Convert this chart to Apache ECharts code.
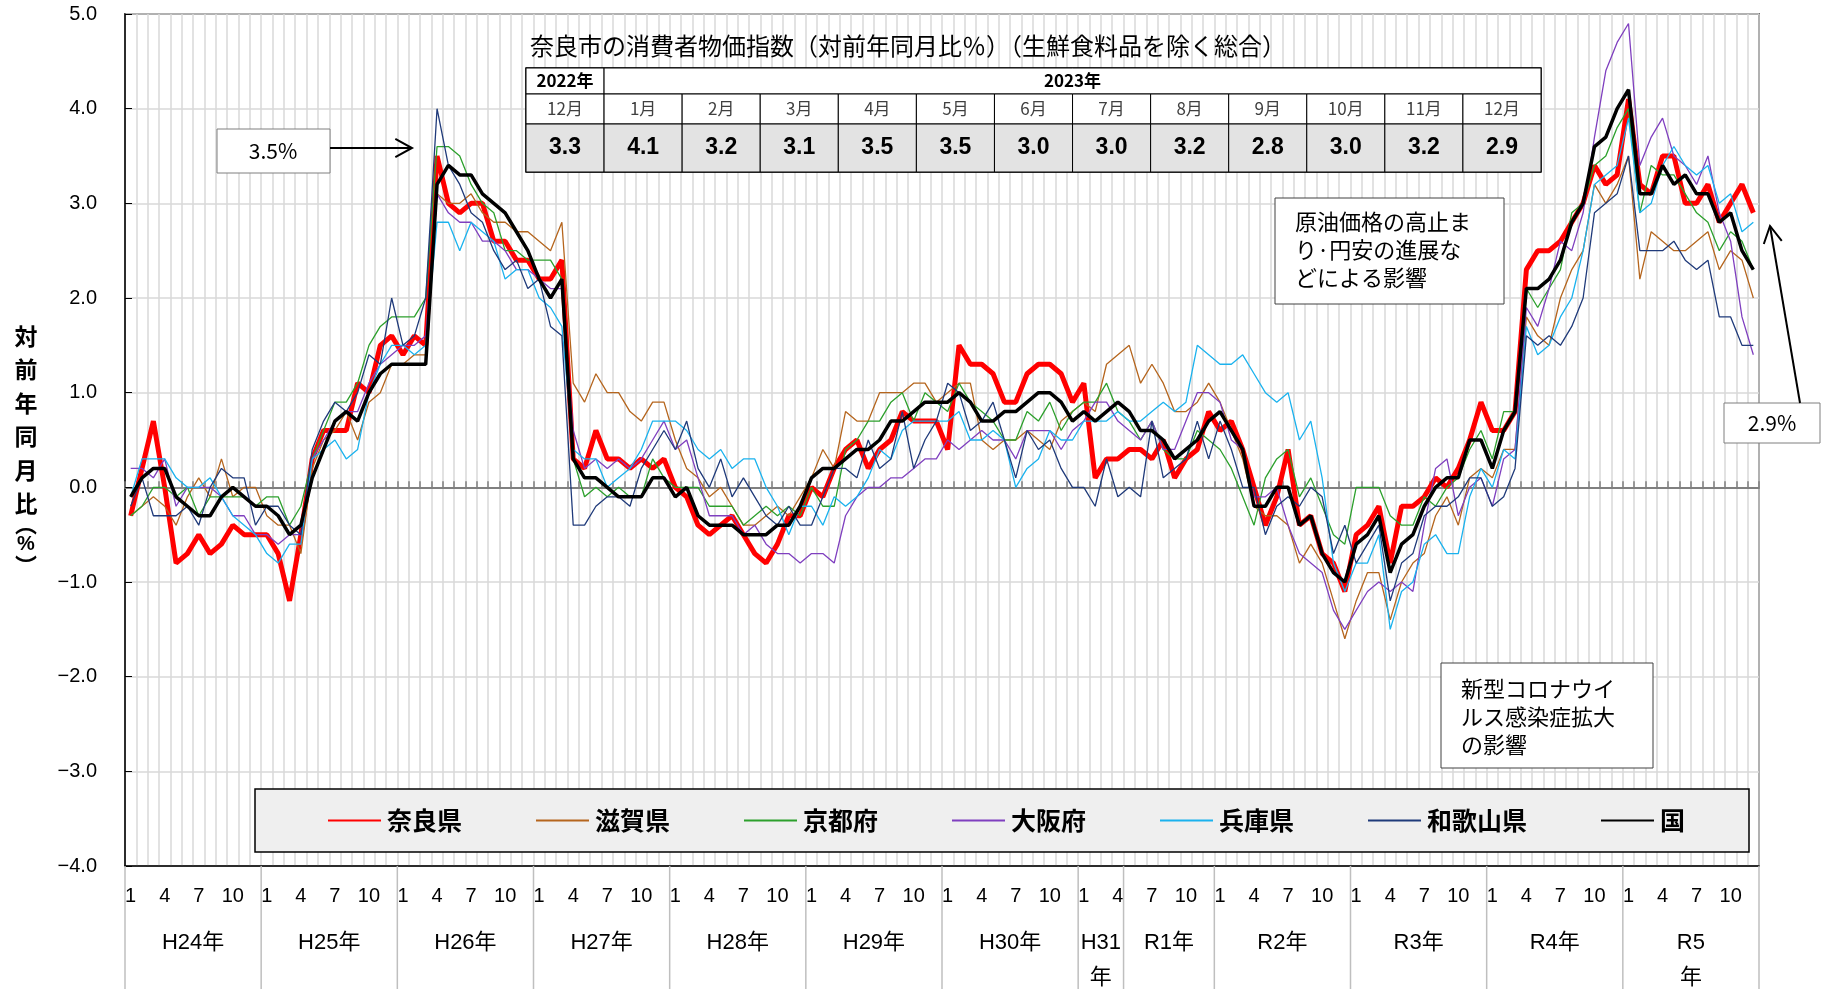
<!DOCTYPE html>
<html>
<head>
<meta charset="utf-8">
<script src="https://cdn.jsdelivr.net/npm/echarts@6/dist/echarts.min.js"></script>
<style>
html,body{margin:0;padding:0;background:#fff;}
#c{width:1833px;height:989px;}
</style>
</head>
<body>
<div id="c"></div>
<script>
// ---------------- data ----------------
const YEARS = [2012,2013,2014,2015,2016,2017,2018,2019,2020,2021,2022,2023];
const ERA_LABELS = [
  {text:'H24年', from:0, to:12},
  {text:'H25年', from:12, to:24},
  {text:'H26年', from:24, to:36},
  {text:'H27年', from:36, to:48},
  {text:'H28年', from:48, to:60},
  {text:'H29年', from:60, to:72},
  {text:'H30年', from:72, to:84},
  {text:'H31\n年', from:84, to:88},
  {text:'R1年', from:88, to:96},
  {text:'R2年', from:96, to:108},
  {text:'R3年', from:108, to:120},
  {text:'R4年', from:120, to:132},
  {text:'R5\n年', from:132, to:144}
];
const SERIES_NAMES = ['奈良県','滋賀県','京都府','大阪府','兵庫県','和歌山県','国'];

const nara = [
 -0.3,0.2,0.7,0.0,-0.8,-0.7,-0.5,-0.7,-0.6,-0.4,-0.5,-0.5,
 -0.5,-0.7,-1.2,-0.5,0.3,0.6,0.6,0.6,1.1,1.0,1.5,1.6,
 1.4,1.6,1.5,3.5,3.0,2.9,3.0,3.0,2.6,2.6,2.4,2.4,
 2.2,2.2,2.4,0.3,0.2,0.6,0.3,0.3,0.2,0.3,0.2,0.3,
 0.0,-0.1,-0.4,-0.5,-0.4,-0.3,-0.5,-0.7,-0.8,-0.6,-0.3,-0.3,
 0.0,-0.1,0.2,0.4,0.5,0.2,0.4,0.5,0.8,0.7,0.7,0.7,
 0.4,1.5,1.3,1.3,1.2,0.9,0.9,1.2,1.3,1.3,1.2,0.9,
 1.1,0.1,0.3,0.3,0.4,0.4,0.3,0.5,0.1,0.3,0.4,0.8,
 0.6,0.7,0.4,0.0,-0.4,-0.1,0.4,-0.4,-0.3,-0.7,-0.8,-1.1,
 -0.5,-0.4,-0.2,-0.8,-0.2,-0.2,-0.1,0.1,0.0,0.2,0.5,0.9,
 0.6,0.6,0.8,2.3,2.5,2.5,2.6,2.8,3.0,3.4,3.2,3.3,
 4.1,3.2,3.1,3.5,3.5,3.0,3.0,3.2,2.8,3.0,3.2,2.9
];
const shiga = [
 -0.3,-0.2,-0.1,-0.2,-0.4,-0.1,0.1,-0.1,0.3,-0.1,0.0,0.0,
 -0.3,-0.4,-0.4,-0.7,0.2,0.5,0.6,0.8,0.5,0.9,1.0,1.3,
 1.3,1.4,1.4,3.1,3.0,3.0,3.1,2.9,2.8,2.8,2.7,2.7,
 2.6,2.5,2.8,1.1,0.9,1.2,1.0,1.0,0.8,0.7,0.9,0.9,
 0.5,0.2,0.1,-0.1,0.0,-0.2,-0.4,-0.4,-0.3,-0.2,-0.3,-0.1,
 0.1,0.4,0.2,0.8,0.7,0.7,1.0,1.0,1.0,1.1,1.1,0.9,
 1.0,1.1,1.1,0.5,0.4,0.5,0.5,0.6,0.5,0.4,0.7,0.8,
 0.9,0.8,1.3,1.4,1.5,1.1,1.3,1.1,0.8,0.8,0.9,1.1,
 0.9,0.6,0.3,-0.2,-0.3,-0.3,-0.4,-0.8,-0.6,-0.8,-1.2,-1.6,
 -1.2,-0.9,-0.9,-1.4,-1.0,-0.8,-0.7,-0.3,-0.1,-0.4,0.1,0.2,
 0.1,0.4,0.4,1.8,1.6,1.5,2.0,2.3,2.5,3.2,3.0,3.2,
 3.5,2.2,2.7,2.6,2.5,2.5,2.6,2.7,2.3,2.5,2.4,2.0
];
const kyoto = [
 -0.3,-0.2,0.0,0.0,-0.1,0.0,-0.3,-0.1,-0.1,-0.1,-0.1,-0.2,
 -0.1,-0.1,-0.4,-0.2,0.3,0.6,0.9,0.9,1.1,1.5,1.7,1.8,
 1.8,1.8,2.0,3.6,3.6,3.5,3.2,3.0,2.9,2.5,2.5,2.4,
 2.4,2.4,2.2,0.3,-0.1,0.0,-0.1,0.0,-0.1,-0.1,0.3,0.1,
 0.0,0.0,0.0,-0.2,-0.2,-0.2,-0.4,-0.3,-0.2,-0.3,-0.2,-0.3,
 0.0,-0.2,-0.2,0.4,0.5,0.7,0.7,0.9,1.0,0.7,1.0,0.9,
 0.8,1.1,0.9,0.8,0.7,0.5,0.5,0.8,0.7,0.9,0.6,0.8,
 0.9,0.9,1.1,0.8,0.7,0.5,0.7,0.4,0.3,0.3,0.6,0.5,
 0.4,0.2,-0.1,-0.4,0.1,0.3,0.4,-0.1,0.1,-0.2,-0.5,-0.6,
 0.0,0.0,0.0,-0.3,-0.4,-0.4,-0.1,-0.2,0.0,0.1,0.4,0.6,
 0.3,0.8,0.8,2.1,1.9,2.1,2.3,2.9,3.0,3.4,3.5,3.8,
 4.0,2.9,3.4,3.3,3.3,3.1,2.9,2.8,2.5,2.7,2.6,2.3
];
const osaka = [
 0.2,0.2,0.1,0.3,-0.2,0.0,0.0,0.0,-0.1,-0.3,-0.3,-0.5,
 -0.5,-0.6,-0.5,-0.5,0.3,0.5,0.7,0.8,0.8,1.1,1.3,1.4,
 1.5,1.5,1.6,3.1,2.9,2.8,2.8,2.6,2.6,2.5,2.3,2.3,
 2.2,2.1,2.1,0.6,0.2,0.3,0.2,0.3,0.2,0.3,0.5,0.7,
 0.4,0.5,0.1,-0.3,-0.3,-0.3,-0.5,-0.4,-0.6,-0.7,-0.7,-0.8,
 -0.7,-0.7,-0.8,-0.3,-0.1,0.0,0.0,0.1,0.1,0.2,0.3,0.3,
 0.5,0.4,0.5,0.6,0.5,0.5,0.3,0.6,0.6,0.6,0.4,0.6,
 0.7,0.9,0.9,0.7,0.6,0.5,0.7,0.4,0.4,0.7,1.0,1.0,
 0.9,0.5,0.4,-0.1,-0.1,0.0,-0.4,-0.7,-0.8,-0.9,-1.3,-1.5,
 -1.3,-1.1,-1.0,-1.1,-1.0,-1.1,-0.4,0.2,0.3,-0.3,0.0,0.1,
 -0.2,0.3,0.4,1.9,1.7,2.1,2.6,2.5,2.9,3.7,4.4,4.7,
 4.9,3.4,3.7,3.9,3.5,3.4,3.2,3.5,2.9,2.6,1.8,1.4
];
const hyogo = [
 -0.1,0.3,0.3,0.3,0.1,0.0,0.0,0.1,-0.1,-0.3,-0.4,-0.5,
 -0.7,-0.8,-0.6,-0.6,0.3,0.4,0.5,0.3,0.4,1.0,1.3,1.5,
 1.5,1.4,1.5,2.8,2.8,2.5,2.8,2.7,2.6,2.2,2.3,2.3,
 2.0,1.9,1.7,0.4,0.3,0.3,0.0,0.1,0.2,0.4,0.7,0.7,
 0.7,0.6,0.4,0.3,0.4,0.2,0.3,0.3,0.0,-0.2,-0.5,-0.2,
 -0.2,-0.4,-0.1,-0.2,-0.1,0.1,0.4,0.3,0.6,0.7,0.7,0.7,
 0.7,0.8,0.5,0.5,0.6,0.5,0.0,0.2,0.3,0.6,0.5,0.5,
 0.7,0.7,0.7,0.8,0.7,0.7,0.8,0.9,0.8,0.9,1.5,1.4,
 1.3,1.3,1.4,1.2,1.0,0.9,1.0,0.5,0.7,0.1,-0.8,-1.1,
 -0.8,-0.8,-0.5,-1.5,-1.1,-1.0,-0.6,-0.5,-0.7,-0.7,-0.1,0.2,
 0.0,0.4,0.3,1.7,1.4,1.5,1.8,2.0,2.5,3.2,3.3,3.4,
 3.9,2.9,3.0,3.4,3.6,3.4,3.3,3.4,3.0,3.1,2.7,2.8
];
const wakayama = [
 -0.2,0.1,-0.3,-0.3,-0.3,-0.2,-0.4,0.0,0.2,0.1,0.1,-0.4,
 -0.2,-0.2,-0.4,-0.5,0.4,0.7,0.9,0.8,1.0,1.4,1.3,2.0,
 1.5,1.6,2.0,4.0,3.4,3.2,2.9,2.8,2.5,2.3,2.4,2.1,
 2.2,1.7,1.6,-0.4,-0.4,-0.2,-0.1,-0.1,-0.2,0.2,0.4,0.6,
 0.4,0.7,0.2,0.0,0.3,-0.1,0.1,-0.1,-0.3,-0.4,-0.2,-0.4,
 -0.4,-0.1,0.2,0.2,0.1,0.5,0.2,0.3,0.8,0.2,0.5,0.7,
 1.1,1.0,0.6,0.7,0.9,0.5,0.1,0.6,0.4,0.5,0.2,0.0,
 0.0,-0.2,0.3,-0.1,0.0,-0.1,0.7,0.1,0.2,0.3,0.7,0.3,
 0.7,0.4,0.0,0.0,-0.5,-0.2,-0.1,-0.2,0.0,-0.1,-0.7,-0.4,
 -0.8,-0.6,-0.4,-1.2,-0.8,-0.7,-0.3,-0.2,-0.2,-0.1,0.1,0.1,
 -0.2,-0.1,0.2,1.6,1.5,1.6,1.5,1.7,2.0,2.9,3.0,3.1,
 3.5,2.5,2.5,2.5,2.6,2.4,2.3,2.4,1.8,1.8,1.5,1.5
];
const kuni = [
 -0.1,0.1,0.2,0.2,-0.1,-0.2,-0.3,-0.3,-0.1,0.0,-0.1,-0.2,
 -0.2,-0.3,-0.5,-0.4,0.1,0.4,0.7,0.8,0.7,1.0,1.2,1.3,
 1.3,1.3,1.3,3.2,3.4,3.3,3.3,3.1,3.0,2.9,2.7,2.5,
 2.2,2.0,2.2,0.3,0.1,0.1,0.0,-0.1,-0.1,-0.1,0.1,0.1,
 -0.1,0.0,-0.3,-0.4,-0.4,-0.4,-0.5,-0.5,-0.5,-0.4,-0.4,-0.2,
 0.1,0.2,0.2,0.3,0.4,0.4,0.5,0.7,0.7,0.8,0.9,0.9,
 0.9,1.0,0.9,0.7,0.7,0.8,0.8,0.9,1.0,1.0,0.9,0.7,
 0.8,0.7,0.8,0.9,0.8,0.6,0.6,0.5,0.3,0.4,0.5,0.7,
 0.8,0.6,0.4,-0.2,-0.2,0.0,0.0,-0.4,-0.3,-0.7,-0.9,-1.0,
 -0.6,-0.5,-0.3,-0.9,-0.6,-0.5,-0.2,0.0,0.1,0.1,0.5,0.5,
 0.2,0.6,0.8,2.1,2.1,2.2,2.4,2.8,3.0,3.6,3.7,4.0,
 4.2,3.1,3.1,3.4,3.2,3.3,3.1,3.1,2.8,2.9,2.5,2.3
];

// table (奈良市) : header groups, month labels; values come from nara's last 13 months
const TABLE_TITLE = '奈良市の消費者物価指数（対前年同月比％）（生鮮食料品を除く総合）';
const TABLE_GROUPS = [{text:'2022年', cols:1},{text:'2023年', cols:12}];
const TABLE_MONTHS = ['12月','1月','2月','3月','4月','5月','6月','7月','8月','9月','10月','11月','12月'];
const TABLE_VALUES = nara.slice(-13);

// ---------------- build ----------------
const categories = [];
YEARS.forEach(y => { for (let m = 1; m <= 12; m++) categories.push(y + '-' + m); });

const JP = "'Noto Sans CJK JP','Noto Sans',sans-serif";
const NUM = "'Liberation Sans','Noto Sans CJK JP',sans-serif";

const colors = ['#ff0000','#b5651d','#2ca02c','#7f3fbf','#1ab2ee','#1f3a7a','#000000'];
const widths = [5, 1.3, 1.3, 1.3, 1.3, 1.3, 3.5];
const dataSets = [nara, shiga, kyoto, osaka, hyogo, wakayama, kuni];

const series = SERIES_NAMES.map((n, i) => ({
  name: n, type: 'line', data: dataSets[i], symbol: 'none', smooth: false,
  xAxisIndex: 0, yAxisIndex: 0,
  lineStyle: {color: colors[i], width: widths[i]},
  itemStyle: {color: colors[i]},
  z: i === 0 ? 2 : 3,
  animation: false
}));

const chart = echarts.init(document.getElementById('c'), null, {width:1833, height:989});

const option = {
  animation: false,
  backgroundColor: '#fff',
  grid: {left:125, right:74, top:14, bottom:123, show:true, borderColor:'#000', borderWidth:1.5, backgroundColor:'#fff'},
  xAxis: [
    {
      type:'category', data: categories, boundaryGap:true, position:'bottom',
      axisLine:{show:true, onZero:false, lineStyle:{color:'#000', width:1.5}},
      axisTick:{show:false},
      axisLabel:{
        interval: (i) => i % 3 === 0,
        formatter: (v) => v.split('-')[1],
        fontSize:20, color:'#000', fontFamily:NUM, margin:20
      },
      splitLine:{show:true, interval:0, lineStyle:{color:'#d9d9d9', width:1.5}}
    },
    {
      type:'category', data: categories, boundaryGap:true, position:'bottom',
      axisLine:{show:true, onZero:true, lineStyle:{color:'#808080', width:2}},
      axisTick:{show:true, inside:true, interval:0, length:6, lineStyle:{color:'#808080', width:1.5}},
      axisLabel:{show:false},
      splitLine:{show:false}
    }
  ],
  yAxis: {
    type:'value', min:-4, max:5, interval:1,
    axisLine:{show:true, lineStyle:{color:'#000', width:1.5}},
    axisTick:{show:true, inside:true, length:7, lineStyle:{color:'#000'}},
    axisLabel:{formatter:(v)=> (v<0?'−':'') + Math.abs(v).toFixed(1), fontSize:20, color:'#000', fontFamily:NUM, margin:28},
    splitLine:{show:true, lineStyle:{color:'#d9d9d9', width:1.5}}
  },
  legend: {
    data: SERIES_NAMES, left:255, top:789,
    padding:[19,64,19,72], itemGap:73, itemWidth:53, itemHeight:14,
    backgroundColor:'#efefef', borderColor:'#000', borderWidth:1.5,
    itemStyle:{opacity:0, borderWidth:0},
    textStyle:{fontSize:25, fontWeight:'bold', color:'#000', fontFamily:JP, padding:[0,0,0,1]},
    selectedMode:false
  },
  series: series
};
chart.setOption(option);

// ---------------- graphics ----------------
const g = [];
function txt(x, y, text, o) {
  o = o || {};
  g.push({type:'text', x:x, y:y, z:o.z || 20, silent:true, style:{
    text:text, fill:o.color || '#000', fontSize:o.size || 20, fontWeight:o.weight || 'normal',
    fontFamily:o.family || JP, align:o.align || 'center', verticalAlign:o.valign || 'middle',
    lineHeight:o.lh
  }});
}
function rect(x, y, w, h, fill, stroke, lw, z) {
  g.push({type:'rect', z:z || 15, silent:true, shape:{x:x, y:y, width:w, height:h},
    style:{fill:fill, stroke:stroke, lineWidth:lw || 1}});
}
function line(x1, y1, x2, y2, stroke, lw, z) {
  g.push({type:'line', z:z || 15, silent:true, shape:{x1:x1, y1:y1, x2:x2, y2:y2}, style:{stroke:stroke, lineWidth:lw}});
}
function arrow(x1, y1, x2, y2) {
  line(x1, y1, x2, y2, '#000', 2, 18);
  const a = Math.atan2(y1 - y2, x1 - x2), L = 19, A = 0.5;
  g.push({type:'polyline', z:18, silent:true, shape:{points:[
    [x2 + L*Math.cos(a + A), y2 + L*Math.sin(a + A)], [x2, y2], [x2 + L*Math.cos(a - A), y2 + L*Math.sin(a - A)]
  ]}, style:{stroke:'#000', lineWidth:2, fill:null}});
}

// y-axis name (vertical)
['対','前','年','同','月','比'].forEach((c, i) => txt(26, 336 + i*33.5, c, {size:23, weight:'bold'}));
txt(26, 524, '︵', {size:22, weight:'bold'});
txt(26, 544, '%', {size:20, weight:'bold', family:NUM});
txt(26, 566, '︶', {size:22, weight:'bold'});

// table
const tX = 526, colW = (1541 - 526) / 13;
const rY = [68, 94, 124, 172];
txt(530, 46, TABLE_TITLE, {size:24, align:'left'});
rect(tX, rY[0], colW*13, rY[3]-rY[0], '#fff', '#000', 1.5, 14);
let c0 = 0;
TABLE_GROUPS.forEach(gr => {
  rect(tX + c0*colW, rY[0], gr.cols*colW, rY[1]-rY[0], '#fff', '#000', 1);
  txt(tX + (c0 + gr.cols/2)*colW, (rY[0]+rY[1])/2, gr.text, {size:17, weight:'bold'});
  c0 += gr.cols;
});
TABLE_MONTHS.forEach((m, i) => {
  rect(tX + i*colW, rY[1], colW, rY[2]-rY[1], '#fff', '#000', 1);
  txt(tX + (i+0.5)*colW, (rY[1]+rY[2])/2, m, {size:17, color:'#404040'});
  rect(tX + i*colW, rY[2], colW, rY[3]-rY[2], '#e3e3e3', '#000', 1);
  txt(tX + (i+0.5)*colW, (rY[2]+rY[3])/2, TABLE_VALUES[i].toFixed(1), {size:23, weight:'bold', family:NUM});
});

// annotation: 3.5%
rect(217, 129, 113, 44, '#fff', '#7f7f7f', 1);
txt(273, 151, '3.5%', {size:21});
arrow(330, 148, 412, 148);

// annotation: 2.9%
rect(1724, 403, 96, 40, '#fff', '#7f7f7f', 1);
txt(1772, 423, '2.9%', {size:21});
arrow(1800, 403, 1770, 226);

// annotation boxes
rect(1275, 198, 229, 106, '#fff', '#404040', 1);
['原油価格の高止ま','り·円安の進展な','どによる影響'].forEach((s, i) => txt(1295, 222 + i*28, s, {size:22, align:'left'}));
rect(1441, 663, 212, 105, '#fff', '#404040', 1);
['新型コロナウイ','ルス感染症拡大','の影響'].forEach((s, i) => txt(1461, 689 + i*28, s, {size:22, align:'left'}));

// bottom year separators & labels via the axis scale
const cx0 = chart.convertToPixel({xAxisIndex:0}, categories[0]);
const cx1 = chart.convertToPixel({xAxisIndex:0}, categories[1]);
const band = cx1 - cx0;
const plotBottom = chart.convertToPixel({yAxisIndex:0}, -4);
function boundary(i) { return cx0 + (i - 0.5) * band; }
const seps = new Set();
ERA_LABELS.forEach(e => { seps.add(e.from); seps.add(e.to); });
seps.forEach(i => line(boundary(i), plotBottom, boundary(i), 989, '#bfbfbf', 1.5, 5));
ERA_LABELS.forEach(e => {
  const cx = (boundary(e.from) + boundary(e.to)) / 2;
  const two = e.text.indexOf('\n') >= 0;
  txt(cx, two ? 960.5 : 943, e.text, {size:22, lh:35, family:NUM});
});

chart.setOption({graphic: g});
</script>
</body>
</html>
